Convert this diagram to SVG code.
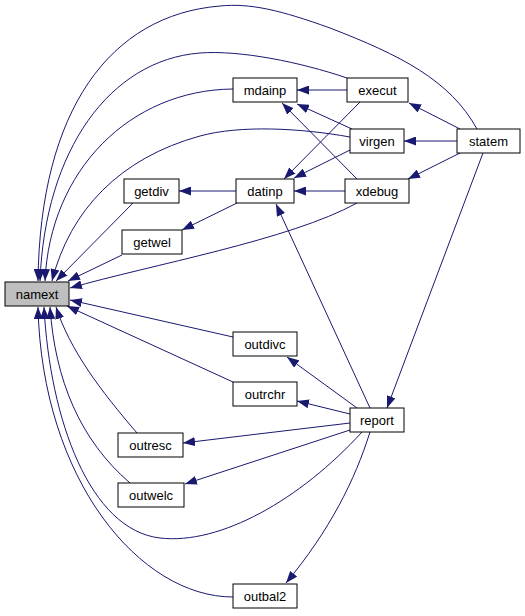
<svg xmlns="http://www.w3.org/2000/svg" width="525" height="616" viewBox="0 0 525 616">
<style>
.n rect{fill:#fff;stroke:#000;stroke-width:1}
.n.h rect{fill:#bfbfbf}
.n text{font-family:"Liberation Sans",Arial,sans-serif;font-size:13px;text-anchor:middle;fill:#000}
.e path{fill:none;stroke:#191970;stroke-width:1;marker-end:url(#a)}
</style>
<defs>
<marker id="a" markerWidth="12" markerHeight="9" refX="12" refY="4.5" orient="auto" markerUnits="userSpaceOnUse"><path d="M0,0 L12,4.5 L0,9 z" fill="#191970"/></marker>
</defs>
<rect width="525" height="616" fill="#fff"/>
<g id="edges" class="e">
<path d="M347,90 L297,90"/>
<path d="M352,129 L297,104"/>
<path d="M357,179 L282,103"/>
<path d="M360,102 L284,179"/>
<path d="M350,150 L294,178"/>
<path d="M345,191 L294,191"/>
<path d="M460,129 L409,103"/>
<path d="M457,141 L404,141"/>
<path d="M460,153 L408,179"/>
<path d="M483,153 L387,408"/>
<path d="M236,191 L179,191"/>
<path d="M237,203 L182,230"/>
<path d="M370,408 L276,204"/>
<path d="M357,408 L287,357"/>
<path d="M350,414 L297,401"/>
<path d="M350,423 L183,443"/>
<path d="M350,430 L185,484"/>
<path d="M370,432 C355,480 330,530 286,583"/>
<path d="M362,432 C300,500 220,545 160,538 C90,530 50,420 44,307"/>
<path d="M233,597 C140,597 42,480 38,307"/>
<path d="M130,483 C80,440 55,380 50,307"/>
<path d="M137,433 C100,390 70,350 56,307"/>
<path d="M233,382 L67,306"/>
<path d="M233,337 L70,300"/>
<path d="M357,203 C290,240 150,265 70,288"/>
<path d="M122,255 L68,281"/>
<path d="M133,203 L56,281"/>
<path d="M350,137 C300,128 240,125 200,136 C120,158 70,210 52,281"/>
<path d="M233,89 C130,90 50,170 45,281"/>
<path d="M347,78 C300,62 240,50 200,53 C110,60 45,150 40,281"/>
<path d="M477,129 C450,80 400,55 330,28 C280,10 250,3 220,6 C110,15 40,110 38,281"/>
</g>
<g id="namext" class="n h"><rect x="5" y="282" width="64" height="24"/><text x="37" y="298.5">namext</text></g>
<g id="mdainp" class="n"><rect x="233" y="78" width="64" height="24"/><text x="265" y="94.5">mdainp</text></g>
<g id="execut" class="n"><rect x="347" y="78" width="61" height="24"/><text x="377.5" y="94.5">execut</text></g>
<g id="virgen" class="n"><rect x="350" y="129" width="54" height="24"/><text x="377" y="145.5">virgen</text></g>
<g id="statem" class="n"><rect x="457" y="129" width="63" height="24"/><text x="488.5" y="145.5">statem</text></g>
<g id="getdiv" class="n"><rect x="124" y="179" width="55" height="24"/><text x="151.5" y="195.5">getdiv</text></g>
<g id="datinp" class="n"><rect x="236" y="179" width="58" height="24"/><text x="265" y="195.5">datinp</text></g>
<g id="xdebug" class="n"><rect x="345" y="179" width="64" height="24"/><text x="377" y="195.5">xdebug</text></g>
<g id="getwel" class="n"><rect x="122" y="230" width="60" height="24"/><text x="152" y="246.5">getwel</text></g>
<g id="outdivc" class="n"><rect x="233" y="332" width="64" height="24"/><text x="265" y="348.5">outdivc</text></g>
<g id="outrchr" class="n"><rect x="233" y="382" width="64" height="24"/><text x="265" y="398.5">outrchr</text></g>
<g id="report" class="n"><rect x="350" y="408" width="54" height="24"/><text x="377" y="424.5">report</text></g>
<g id="outresc" class="n"><rect x="118" y="433" width="65" height="24"/><text x="150.5" y="449.5">outresc</text></g>
<g id="outwelc" class="n"><rect x="118" y="483" width="66" height="24"/><text x="151" y="499.5">outwelc</text></g>
<g id="outbal2" class="n"><rect x="233" y="584" width="64" height="24"/><text x="265" y="600.5">outbal2</text></g>
</svg>
